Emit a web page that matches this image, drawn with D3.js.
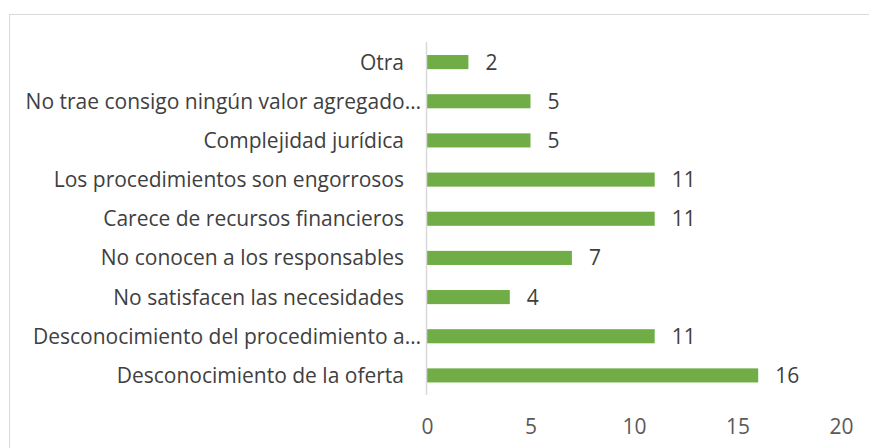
<!DOCTYPE html>
<html>
<head>
<meta charset="utf-8">
<script src="https://cdn.jsdelivr.net/npm/d3@7"></script>
<style>
  body { margin: 0; background: #fff; }
  text { font-family: "Open Sans", "Noto Sans", sans-serif; }
</style>
</head>
<body>
<svg id="chart" width="869" height="448"></svg>
<script>
var categories = [
  "Otra",
  "No trae consigo ningún valor agregado…",
  "Complejidad jurídica",
  "Los procedimientos son engorrosos",
  "Carece de recursos financieros",
  "No conocen a los responsables",
  "No satisfacen las necesidades",
  "Desconocimiento del procedimiento a…",
  "Desconocimiento de la oferta"
];
var values = [2, 5, 5, 11, 11, 7, 4, 11, 16];
var ticks = [0, 5, 10, 15, 20];

var svg = d3.select("#chart");

// chart border
svg.append("rect")
  .attr("x", 9.5).attr("y", 14.5)
  .attr("width", 880).attr("height", 450)
  .attr("fill", "none").attr("stroke", "#d9d9d9");

var x = d3.scaleLinear().domain([0, 20]).range([427, 841]);
var y = d3.scaleBand().domain(categories).range([42.5, 395]).paddingInner(0.64).paddingOuter(0.32);

// bars
svg.selectAll("rect.bar")
  .data(values).enter().append("rect")
  .attr("class", "bar")
  .attr("x", x(0))
  .attr("y", function (d, i) { return y(categories[i]); })
  .attr("width", function (d) { return x(d) - x(0); })
  .attr("height", y.bandwidth())
  .attr("fill", "#70ad47");

// value labels
svg.selectAll("text.val")
  .data(values).enter().append("text")
  .attr("class", "val")
  .attr("x", function (d) { return x(d) + 17; })
  .attr("y", function (d, i) { return y(categories[i]) + y.bandwidth() / 2; })
  .attr("dy", ".36em")
  .attr("font-size", 21)
  .attr("fill", "#404040")
  .text(function (d) { return d; });

// category axis line
svg.append("line")
  .attr("x1", x(0) - 0.5).attr("x2", x(0) - 0.5)
  .attr("y1", 42).attr("y2", 395)
  .attr("stroke", "#d9d9d9").attr("stroke-width", 1.5);

// category labels
svg.selectAll("text.cat")
  .data(categories).enter().append("text")
  .attr("class", "cat")
  .attr("x", function (d) { return d.slice(-1) == "…" ? 421 : 404; })
  .attr("y", function (d) { return y(d) + y.bandwidth() / 2; })
  .attr("dy", ".36em")
  .attr("text-anchor", "end")
  .attr("font-size", 21)
  .attr("fill", "#404040")
  .text(function (d) { return d; });

// value axis labels
var xAxis = d3.axisBottom(x).tickValues(ticks).tickSize(0).tickPadding(0);
var gx = svg.append("g").attr("transform", "translate(0,420)").call(xAxis);
gx.select(".domain").remove();
gx.selectAll("text")
  .attr("font-size", 21)
  .attr("font-family", "Open Sans, Noto Sans, sans-serif")
  .attr("fill", "#595959")
  .attr("dy", ".36em")
  .attr("y", 6);
</script>
</body>
</html>
